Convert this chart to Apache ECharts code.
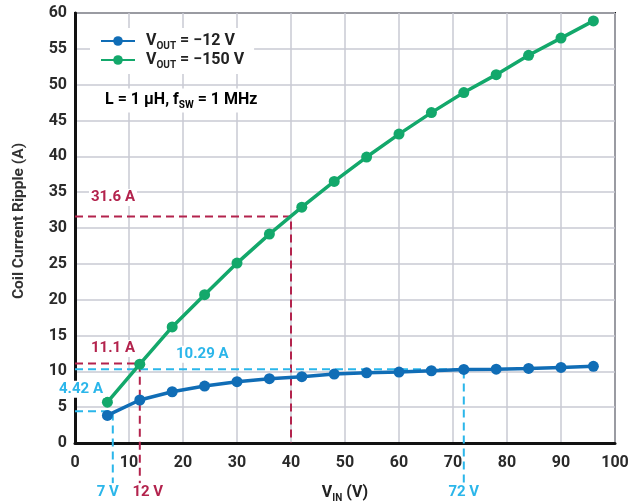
<!DOCTYPE html>
<html>
<head>
<meta charset="utf-8">
<script src="https://cdn.jsdelivr.net/npm/echarts@6/dist/echarts.min.js"></script>
<style>html,body{margin:0;padding:0;background:#fff}#c{width:644px;height:502px}</style>
</head>
<body>
<div id="c"></div>
<script>
// ---- data ----
const vin = [6, 12, 18, 24, 30, 36, 42, 48, 54, 60, 66, 72, 78, 84, 90, 96];
const rippleVout12 = [3.85, 6.0, 7.15, 7.95, 8.55, 8.97, 9.25, 9.62, 9.8, 9.9, 10.08, 10.27, 10.3, 10.4, 10.55, 10.7];
const rippleVout150 = [5.7, 11.0, 16.2, 20.7, 25.1, 29.15, 32.9, 36.5, 39.9, 43.1, 46.1, 48.9, 51.4, 54.1, 56.5, 58.9];
const xTicks = [0, 10, 20, 30, 40, 50, 60, 70, 80, 90, 100];
const yTicks = [0, 5, 10, 15, 20, 25, 30, 35, 40, 45, 50, 55, 60];
// annotation points (VIN, ripple)
const redVin = [40, 12];
const redRipple = [31.6, 11.1];
const redXLabel = [false, true];
const blueVin = [72, 7];
const blueRipple = [10.29, 4.42];
const blueXLabel = [true, true];
const belowAxis = -5.6; // extension of labelled guide lines below the axis

const C_BLUE = '#106db6', C_GREEN = '#13a86b', C_RED = '#b3234d', C_LBLUE = '#2bb6ea';
const FONT = 'Roboto';

function guideData(xs, ys, lbl) {
  const out = [];
  xs.forEach((x, i) => {
    out.push([[0, ys[i]], [x, ys[i]], [x, lbl[i] ? belowAxis : 0]]);
  });
  return out;
}
const guideSeries = [];
guideData(redVin, redRipple, redXLabel).forEach(d => guideSeries.push({type:'line', data:d, symbol:'none', clip:false, silent:true, z:1, lineStyle:{color:C_RED, width:2, type:[8,5]}, legendHoverLink:false}));
guideData(blueVin, blueRipple, blueXLabel).forEach(d => guideSeries.push({type:'line', data:d, symbol:'none', clip:false, silent:true, z:1, lineStyle:{color:C_LBLUE, width:2, type:[8,5]}, legendHoverLink:false}));

const chart = echarts.init(document.getElementById('c'));
const rich = {
  a: {fontFamily: FONT, fontSize: 16, fontWeight: 'bold', color: '#222', lineHeight: 20},
  s: {fontFamily: FONT, fontSize: 10, fontWeight: 'bold', color: '#222', lineHeight: 20, verticalAlign: 'bottom', padding: [9, 0, 0, 0]}
};
const legendText = {'v12': '{a|V}{s|OUT}{a| = −12 V}', 'v150': '{a|V}{s|OUT}{a| = −150 V}'};

chart.setOption({
  animation: false,
  grid: {left: 75, right: 29, top: 13, bottom: 59, show: true, borderColor: '#111', borderWidth: 2,
    backgroundColor: 'transparent', containLabel: false, outerBoundsMode: 'none'},
  legend: {
    data: ['v12', 'v150'], orient: 'vertical', left: 90, top: 28,
    backgroundColor: '#fff', padding: [4, 10, 4, 10], itemGap: 0,
    itemWidth: 34, itemHeight: 12, itemStyle: {},
    formatter: n => legendText[n],
    textStyle: {rich: rich, padding: [0, 0, 0, 6]}
  },
  xAxis: {
    type: 'value', min: 0, max: 100, interval: 10,
    axisLine: {show: true, lineStyle: {color: '#111', width: 3}},
    axisTick: {show: false},
    splitLine: {show: true, lineStyle: {color: '#c9cad3', width: 1.5}},
    axisLabel: {fontFamily: FONT, fontSize: 16, fontWeight: 'bold', color: '#2a2a2a', margin: 12,
      formatter: v => xTicks.includes(v) ? String(v) : ''},
    name: '{a|V}{s|IN}{a| (V)}', nameLocation: 'middle', nameGap: 40,
    nameTextStyle: {rich: rich}
  },
  yAxis: {
    type: 'value', min: 0, max: 60, interval: 5,
    axisLine: {show: true, lineStyle: {color: '#111', width: 3}},
    axisTick: {show: false},
    splitLine: {show: true, lineStyle: {color: '#c9cad3', width: 1.5}},
    axisLabel: {fontFamily: FONT, fontSize: 16, fontWeight: 'bold', color: '#2a2a2a', margin: 8,
      formatter: v => yTicks.includes(v) ? String(v) : ''}
  },
  series: guideSeries.concat([
    {name: 'v12', type: 'line', data: vin.map((x, i) => [x, rippleVout12[i]]), symbol: 'circle', symbolSize: 11,
     itemStyle: {color: C_BLUE}, lineStyle: {color: C_BLUE, width: 3.5}, z: 3},
    {name: 'v150', type: 'line', data: vin.map((x, i) => [x, rippleVout150[i]]), symbol: 'circle', symbolSize: 11,
     itemStyle: {color: C_GREEN}, lineStyle: {color: C_GREEN, width: 3.5}, z: 3}
  ])
});

// text annotations placed via the chart's own scales
function px(x, y) { return chart.convertToPixel({gridIndex: 0}, [x, y]); }
const lblStyle = (txt, col) => ({text: txt, fill: col, font: 'bold 15px ' + FONT, backgroundColor: '#fff', padding: [1, 2, 1, 2]});
const g = [];
// y axis title
g.push({type: 'text', x: 19, y: 221, rotation: Math.PI / 2, z: 50,
  style: {text: 'Coil Current Ripple (A)', fill: '#333', font: 'bold 15.5px ' + FONT, align: 'center', verticalAlign: 'middle'}});
// value labels
const p316 = px(0, redRipple[0]);
g.push({type: 'text', x: p316[0] + 14, y: p316[1] - 19, style: Object.assign(lblStyle('31.6 A', C_RED), {verticalAlign: 'middle'}), z: 50});
const p111 = px(0, redRipple[1]);
g.push({type: 'text', x: p111[0] + 14, y: p111[1] - 15, style: Object.assign(lblStyle('11.1 A', C_RED), {verticalAlign: 'middle'}), z: 50});
const p1029 = px(0, blueRipple[0]);
g.push({type: 'text', x: p1029[0] + 99, y: p1029[1] - 15, style: Object.assign(lblStyle('10.29 A', C_LBLUE), {verticalAlign: 'middle'}), z: 50});
const p442 = px(0, blueRipple[1]);
g.push({type: 'text', x: p442[0] - 18, y: p442[1] - 22, style: Object.assign(lblStyle('4.42 A', C_LBLUE), {verticalAlign: 'middle'}), z: 50});
// VIN labels under axis
const v7 = px(blueVin[1], 0), v12 = px(redVin[1], 0), v72 = px(blueVin[0], 0);
g.push({type: 'text', x: v7[0] - 5, y: v7[1] + 49, style: Object.assign(lblStyle('7 V', C_LBLUE), {align: 'center', verticalAlign: 'middle'}), z: 50});
g.push({type: 'text', x: v12[0] + 8, y: v12[1] + 49, style: Object.assign(lblStyle('12 V', C_RED), {align: 'center', verticalAlign: 'middle'}), z: 50});
g.push({type: 'text', x: v72[0], y: v72[1] + 49, style: Object.assign(lblStyle('72 V', C_LBLUE), {align: 'center', verticalAlign: 'middle'}), z: 50});
// condition note
const pn = px(0, 47.8);
g.push({type: 'text', x: pn[0] + 26, y: pn[1], z: 50, style: {
  text: '{a|L = 1 µH, f}{s|SW}{a| = 1 MHz}', rich: rich, backgroundColor: '#fff', padding: [2, 4, 2, 4], verticalAlign: 'middle'}});
chart.setOption({graphic: g});
</script>
</body>
</html>
